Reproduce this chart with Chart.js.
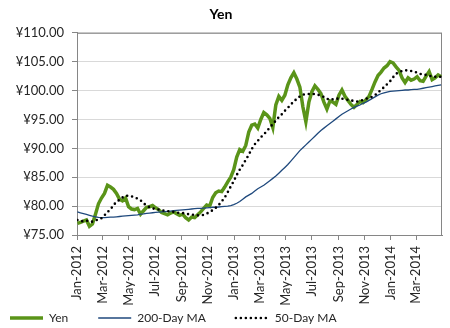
<!DOCTYPE html>
<html>
<head>
<meta charset="utf-8">
<script src="https://cdn.jsdelivr.net/npm/chart.js@4/dist/chart.umd.min.js"></script>
<style>
  body { margin: 0; background: #fff; }
  #wrap { width: 450px; height: 328px; }
</style>
</head>
<body>
<div id="wrap"><canvas id="yenChart" width="450" height="328"></canvas></div>
<script>
// weekly readings, first one on 2 Jan 2012 (day 1 counted from 1 Jan 2012)
const yen = [
  77.0, 77.2, 77.4, 77.6, 76.5, 76.9, 78.6, 80.4, 81.4, 82.2,
  83.6, 83.3, 82.9, 82.2, 81.2, 80.9, 81.4, 79.9, 79.5, 79.4,
  79.6, 78.6, 79.2, 79.8, 79.9, 80.1, 79.7, 79.4, 78.9, 78.7,
  78.5, 78.8, 79.0, 78.7, 78.4, 78.6, 78.0, 77.6, 78.1, 78.0,
  78.5, 79.0, 79.6, 80.2, 80.0, 81.5, 82.3, 82.6, 82.5, 83.3,
  84.2, 85.0, 86.3, 88.5, 89.8, 89.5, 90.5, 92.8, 94.0, 94.2,
  93.5, 95.0, 96.2, 95.8, 95.2, 93.6, 97.5, 99.0, 98.3, 99.2,
  101.0, 102.2, 103.1, 102.0, 100.6, 97.2, 94.6, 98.0, 99.8, 100.8,
  100.2, 99.5, 98.0, 96.8, 98.2, 98.0, 97.6, 99.2, 100.1, 99.0,
  98.3, 97.6, 97.1, 97.6, 98.1, 97.9, 98.4, 99.0, 100.2, 101.5,
  102.6, 103.2, 103.9, 104.3, 105.0, 104.8, 104.1, 103.5, 102.2, 101.4,
  102.2, 101.8, 102.0, 102.4, 101.7, 101.6, 102.5, 103.3, 101.9, 102.2,
  102.7, 102.4
];

const ma200 = [
  79.0, 78.85, 78.7, 78.55, 78.4, 78.25, 78.15, 78.05, 78.0, 78.0,
  78.05, 78.1, 78.1, 78.15, 78.2, 78.25, 78.3, 78.35, 78.4, 78.45,
  78.5, 78.6, 78.65, 78.75, 78.8, 78.85, 78.9, 78.95, 79.0, 79.05,
  79.1, 79.15, 79.2, 79.25, 79.3, 79.35, 79.4, 79.45, 79.5, 79.55,
  79.6, 79.6, 79.65, 79.7, 79.75, 79.8, 79.8, 79.85, 79.9, 79.95,
  80.0, 80.1, 80.25, 80.5, 80.8, 81.2, 81.6, 81.9, 82.2, 82.6,
  83.0, 83.3, 83.6, 84.0, 84.4, 84.8, 85.2, 85.7, 86.2, 86.7,
  87.2, 87.8, 88.4, 89.0, 89.6, 90.1, 90.6, 91.1, 91.6, 92.1,
  92.6, 93.1, 93.5, 93.9, 94.3, 94.7, 95.1, 95.5, 95.9, 96.2,
  96.5, 96.8, 97.1, 97.3, 97.5, 97.8, 98.0, 98.3, 98.6, 98.9,
  99.2, 99.45, 99.6, 99.75, 99.85, 99.9, 99.95, 100.0, 100.05, 100.1,
  100.1, 100.15, 100.2, 100.2, 100.3, 100.4, 100.5, 100.6, 100.7, 100.8,
  100.9, 101.0
];

const ma50 = [
  77.6, 77.4, 77.4, 77.5, 77.4, 77.3, 77.5, 77.7, 77.9, 78.4,
  79.0, 79.4, 80.2, 80.7, 81.1, 81.5, 81.8, 81.8, 81.7, 81.5,
  81.3, 81.0, 80.5, 80.1, 79.8, 79.6, 79.5, 79.4, 79.3, 79.2,
  79.1, 79.1, 79.0, 78.9, 78.8, 78.8, 78.7, 78.6, 78.5, 78.5,
  78.4, 78.4, 78.5, 78.7, 79.0, 79.3, 79.7, 80.2, 80.8, 81.5,
  82.4, 83.4, 84.3, 85.4, 86.3, 87.1, 88.0, 88.9, 89.9, 90.7,
  91.3, 91.9, 92.4, 93.0, 93.6, 94.2, 94.8, 95.4, 95.9, 96.5,
  97.0, 97.6, 98.1, 98.6, 99.0, 99.3, 99.4, 99.4, 99.4, 99.4,
  99.3, 99.1, 98.9, 98.6, 98.4, 98.5, 98.6, 98.6, 98.6, 98.5,
  98.4, 98.3, 98.2, 98.1, 98.2, 98.4, 98.6, 98.7, 98.9, 99.2,
  99.7, 100.1, 100.6, 101.1, 101.6, 102.3, 102.9, 103.2, 103.4, 103.5,
  103.5, 103.4, 103.3, 103.1, 102.9, 102.8, 102.7, 102.6, 102.4, 102.4,
  102.4, 102.4
];

// x axis: days since 1 Jan 2012, a tick every two months
const tickDays = [0, 60, 121, 182, 244, 305, 366, 425, 486, 547, 609, 670, 731, 790];
const tickLabels = [
  "Jan-2012", "Mar-2012", "May-2012", "Jul-2012", "Sep-2012", "Nov-2012",
  "Jan-2013", "Mar-2013", "May-2013", "Jul-2013", "Sep-2013", "Nov-2013",
  "Jan-2014", "Mar-2014"
];
const yTicks = [75, 80, 85, 90, 95, 100, 105, 110];

const days = yen.map((_, i) => 1 + 7 * i);
const toPoints = (vals) => vals.map((v, i) => ({ x: days[i], y: v }));

const FONT = "Lato, 'Open Sans', sans-serif";
const AXIS_GRAY = "#868686";
const LEGEND_SIZE = 12;

// box around the plot area, like the Excel chart
const plotBorder = {
  id: "plotBorder",
  beforeDatasetsDraw(chart) {
    const { ctx, chartArea: a } = chart;
    ctx.save();
    ctx.strokeStyle = AXIS_GRAY;
    ctx.lineWidth = 1;
    ctx.strokeRect(a.left + 0.5, a.top + 0.5, a.right - a.left - 1, a.bottom - a.top);
    ctx.restore();
  },
};

// legend sits at the bottom left with wide gaps between items
const legendPlace = {
  id: "legendPlace",
  afterLayout(chart) {
    const lg = chart.legend;
    const pad = lg.options.labels.padding;
    lg.left = 10 - pad;
    lg.top = 318 - pad - LEGEND_SIZE / 2;
  },
};

const ctx = document.getElementById("yenChart").getContext("2d");
new Chart(ctx, {
  type: "line",
  data: {
    datasets: [
      {
        label: "Yen",
        data: toPoints(yen),
        borderColor: "#5A9419",
        borderWidth: 3.5,
        pointRadius: 0,
        tension: 0,
        order: 3,
      },
      {
        label: "200-Day MA",
        data: toPoints(ma200),
        borderColor: "#1F497D",
        borderWidth: 1.3,
        pointRadius: 0,
        tension: 0,
        order: 2,
      },
      {
        label: "50-Day MA",
        data: toPoints(ma50),
        borderColor: "#000000",
        borderWidth: 2.6,
        borderDash: [0, 5],
        borderCapStyle: "round",
        pointRadius: 0,
        tension: 0,
        order: 1,
      },
    ],
  },
  options: {
    responsive: false,
    animation: false,
    layout: { padding: { left: 0, right: 8, top: 0, bottom: 0 } },
    scales: {
      x: {
        type: "linear",
        min: 0,
        max: 850,
        afterBuildTicks: (scale) => {
          scale.ticks = tickDays.map((d) => ({ value: d }));
        },
        afterFit: (scale) => {
          scale.height = 70;
        },
        grid: { drawOnChartArea: false, tickLength: 5, color: AXIS_GRAY },
        border: { color: AXIS_GRAY },
        ticks: {
          autoSkip: false,
          maxRotation: 90,
          minRotation: 90,
          padding: 6,
          color: "#262626",
          font: { family: FONT, size: 13 },
          callback: (v) => tickLabels[tickDays.indexOf(v)],
        },
      },
      y: {
        min: 75,
        max: 110,
        afterBuildTicks: (scale) => {
          scale.ticks = yTicks.map((v) => ({ value: v }));
        },
        afterFit: (scale) => {
          scale.width = 77;
        },
        grid: { color: "#D9D9D9", tickColor: AXIS_GRAY, tickLength: 5 },
        border: { color: AXIS_GRAY },
        ticks: {
          padding: 8,
          color: "#262626",
          font: { family: FONT, size: 13 },
          callback: (v) => "¥" + Number(v).toFixed(2),
        },
      },
    },
    plugins: {
      title: {
        display: true,
        text: "Yen",
        color: "#000",
        font: { family: FONT, size: 14, weight: "bold" },
        padding: { top: 6, bottom: 10 },
      },
      legend: {
        position: "bottom",
        align: "start",
        maxHeight: 23,
        labels: {
          usePointStyle: true,
          pointStyle: "line",
          pointStyleWidth: 33,
          padding: 30,
          color: "#262626",
          font: { family: FONT, size: LEGEND_SIZE },
          sort: (a, b) => a.datasetIndex - b.datasetIndex,
          // point-style items lose the dataset's dash, so copy it back
          generateLabels: (chart) => {
            const items = Chart.defaults.plugins.legend.labels.generateLabels(chart);
            items.forEach((it) => {
              const ds = chart.data.datasets[it.datasetIndex];
              it.lineDash = ds.borderDash || [];
              it.lineCap = ds.borderCapStyle || "butt";
              it.lineWidth = ds.borderWidth;
              it.strokeStyle = ds.borderColor;
            });
            return items;
          },
        },
      },
      tooltip: { enabled: false },
    },
  },
  plugins: [plotBorder, legendPlace],
});
</script>
</body>
</html>
